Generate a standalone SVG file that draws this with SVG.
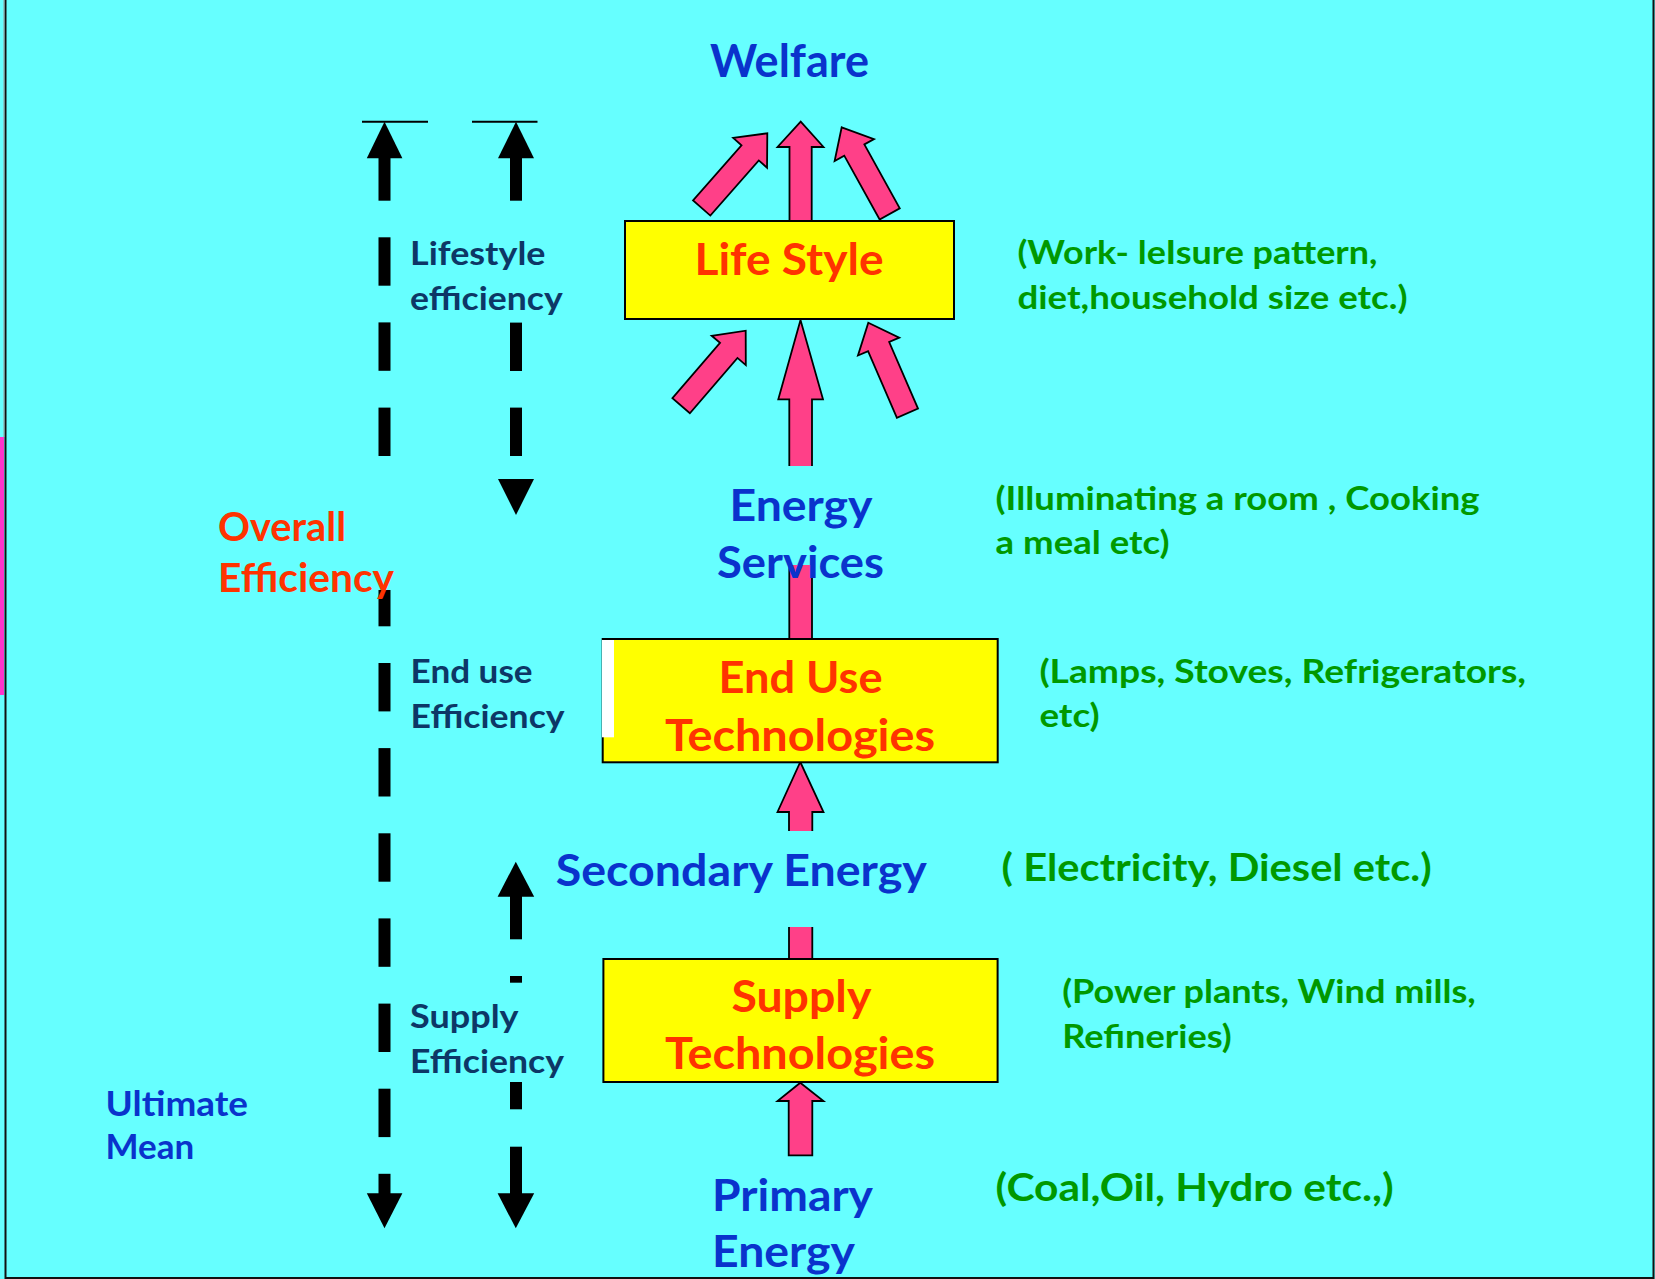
<svg xmlns="http://www.w3.org/2000/svg" width="1655" height="1279" viewBox="0 0 1655 1279">
<style>
text{font-family:Lato,"Liberation Sans",sans-serif;font-weight:700}
.h{font-size:44px;fill:#0A33CC}
.r{font-size:44px;fill:#FF3300}
.n{font-size:32.5px;fill:#0D3766}
.g{font-size:32.5px;fill:#009900}
.gb{font-size:38px;fill:#009900}
.box{fill:#FFFF00;stroke:#000;stroke-width:2}
.pk{fill:#FF4088;stroke:#000;stroke-width:1.8;stroke-linejoin:miter}
.pkf{fill:#FF4088}
.pks{stroke:#000;stroke-width:1.8;fill:none}
.bk{fill:#000}
.c{text-anchor:middle}
</style>
<rect x="0" y="0" width="1655" height="1279" fill="#66FFFF"/>
<rect x="0" y="437" width="4" height="258" fill="#FF33CC"/>
<path d="M5.5,0 V1278 H1653.5 V0" fill="none" stroke="#111" stroke-width="2"/>
<line x1="4" y1="0" x2="4" y2="437" stroke="#999" stroke-width="1"/>

<g id="connectors">
  <!-- pink arrows top (Life Style -> Welfare) -->
  <polygon class="pk" transform="translate(767.3,133.3) rotate(41.3)" points="0,0 22.5,26 11.5,26 11.5,99.4 -11.5,99.4 -11.5,26 -22.5,26"/>
  <polygon class="pk" transform="translate(841.7,127.3) rotate(-29)" points="0,0 22.5,26 11.5,26 11.5,99 -11.5,99 -11.5,26 -22.5,26"/>
  <path class="pk" d="M789.5,222 V147 H777.5 L800.7,121.7 L823.5,147 H811.7 V222"/>
  <!-- pink arrows (Energy Services -> Life Style) -->
  <polygon class="pk" transform="translate(745.7,330.7) rotate(40.7)" points="0,0 22.5,26 11.5,26 11.5,99 -11.5,99 -11.5,26 -22.5,26"/>
  <polygon class="pk" transform="translate(868.3,322.7) rotate(-23.4)" points="0,0 22.5,26 11.5,26 11.5,98.6 -11.5,98.6 -11.5,26 -22.5,26"/>
  <path class="pk" d="M789.3,466 V399.3 H778.3 L800.5,320 L823,399.3 H812 V466"/>
  <!-- End Use -> Energy Services shaft -->
  <rect class="pkf" x="789.3" y="565" width="22.7" height="75"/>
  <path class="pks" d="M789.3,565 V640 M812,565 V640"/>
  <!-- Secondary -> End Use -->
  <path class="pk" d="M789,831 V812 H777.5 L800.3,762 L823.5,812 H812.3 V831"/>
  <!-- Supply -> Secondary shaft -->
  <rect class="pkf" x="789" y="927" width="23.3" height="33"/>
  <path class="pks" d="M789,927 V960 M812.3,927 V960"/>
  <!-- Primary -> Supply -->
  <polygon class="pk" points="800.3,1082.7 823.5,1101 812.3,1101 812.3,1155.3 788.7,1155.3 788.7,1101 777.5,1101"/>

  <!-- black dashed efficiency arrows -->
  <g id="overall-arrow">
    <line x1="362" y1="121.7" x2="428" y2="121.7" stroke="#000" stroke-width="2"/>
    <polygon class="bk" points="384.5,121.7 402.4,158.3 366.8,158.3"/>
    <rect class="bk" x="378.5" y="157" width="12" height="43.7"/>
    <rect class="bk" x="378.5" y="237.3" width="12" height="48.4"/>
    <rect class="bk" x="378.5" y="322.4" width="12" height="48.4"/>
    <rect class="bk" x="378.5" y="407.6" width="12" height="48.4"/>
    <rect class="bk" x="378.5" y="590" width="12" height="36.3"/>
    <rect class="bk" x="378.5" y="663" width="12" height="48.4"/>
    <rect class="bk" x="378.5" y="748.1" width="12" height="48.4"/>
    <rect class="bk" x="378.5" y="833.3" width="12" height="48.4"/>
    <rect class="bk" x="378.5" y="918.4" width="12" height="48.4"/>
    <rect class="bk" x="378.5" y="1003.6" width="12" height="48.4"/>
    <rect class="bk" x="378.5" y="1088.7" width="12" height="48.4"/>
    <rect class="bk" x="378.5" y="1173.8" width="12" height="20.5"/>
    <polygon class="bk" points="366.8,1193.3 402.4,1193.3 384.5,1228.3"/>
  </g>
  <g id="lifestyle-arrow">
    <line x1="472" y1="121.7" x2="537.5" y2="121.7" stroke="#000" stroke-width="2"/>
    <polygon class="bk" points="516,121.7 534,158.3 498,158.3"/>
    <rect class="bk" x="510" y="157" width="12" height="43.7"/>
    <rect class="bk" x="510" y="322.6" width="12" height="48.4"/>
    <rect class="bk" x="510" y="407.6" width="12" height="48.4"/>
    <polygon class="bk" points="498,479 534,479 516,515"/>
  </g>
  <g id="supply-arrow">
    <polygon class="bk" points="515.8,861.7 534.2,896.7 497.6,896.7"/>
    <rect class="bk" x="510" y="895.5" width="12" height="43.8"/>
    <rect class="bk" x="510" y="976" width="12" height="6.7"/>
    <rect class="bk" x="510" y="1082" width="12" height="27.3"/>
    <rect class="bk" x="510" y="1146.7" width="12" height="47.6"/>
    <polygon class="bk" points="497.6,1193.3 534.2,1193.3 515.8,1228.3"/>
  </g>
</g>

<g id="welfare"><text class="h c" x="789.5" y="77.3" style="font-size:45px" textLength="159" lengthAdjust="spacingAndGlyphs">Welfare</text></g>
<g id="life-style">
  <rect class="box" x="625" y="221" width="329" height="98"/>
  <text class="r c" x="789" y="275" textLength="189" lengthAdjust="spacingAndGlyphs">Life Style</text>
</g>
<g id="energy-services">
  <text class="h c" x="801" y="521" textLength="143" lengthAdjust="spacingAndGlyphs">Energy</text>
  <text class="h c" x="800.5" y="578.3" textLength="167" lengthAdjust="spacingAndGlyphs">Services</text>
</g>
<g id="end-use">
  <rect class="box" x="602.7" y="639" width="395" height="123.3"/>
  <rect x="602" y="640" width="12" height="97.3" fill="#FFFFFF"/>
  <text class="r c" x="800.5" y="693.3" textLength="164" lengthAdjust="spacingAndGlyphs">End Use</text>
  <text class="r c" x="800" y="750.7" textLength="270" lengthAdjust="spacingAndGlyphs">Technologies</text>
</g>
<g id="secondary-energy"><text class="h c" x="741.3" y="886" textLength="371" lengthAdjust="spacingAndGlyphs">Secondary Energy</text></g>
<g id="supply">
  <rect class="box" x="603.4" y="959" width="394.2" height="123"/>
  <text class="r c" x="801.4" y="1012.3" textLength="140" lengthAdjust="spacingAndGlyphs">Supply</text>
  <text class="r c" x="800" y="1069.3" textLength="270" lengthAdjust="spacingAndGlyphs">Technologies</text>
</g>
<g id="primary-energy">
  <text class="h" x="712" y="1210.7" textLength="161" lengthAdjust="spacingAndGlyphs">Primary</text>
  <text class="h" x="712" y="1266.7" textLength="143" lengthAdjust="spacingAndGlyphs">Energy</text>
</g>
<g id="overall-efficiency">
  <text class="r" x="218" y="540.7" style="font-size:40px" textLength="128" lengthAdjust="spacingAndGlyphs">Overall</text>
  <text class="r" x="218" y="591.7" style="font-size:40px" textLength="176" lengthAdjust="spacingAndGlyphs">Efficiency</text>
</g>
<g id="lifestyle-efficiency">
  <text class="n" x="410" y="265" textLength="135.5" lengthAdjust="spacingAndGlyphs">Lifestyle</text>
  <text class="n" x="410" y="310" textLength="152.7" lengthAdjust="spacingAndGlyphs">efficiency</text>
</g>
<g id="end-use-efficiency">
  <text class="n" x="410.6" y="683.3" textLength="122" lengthAdjust="spacingAndGlyphs">End use</text>
  <text class="n" x="410.6" y="728.3" textLength="154" lengthAdjust="spacingAndGlyphs">Efficiency</text>
</g>
<g id="supply-efficiency">
  <text class="n" x="410" y="1028.3" textLength="108.6" lengthAdjust="spacingAndGlyphs">Supply</text>
  <text class="n" x="410" y="1072.7" textLength="154" lengthAdjust="spacingAndGlyphs">Efficiency</text>
</g>
<g id="ultimate-mean">
  <text class="n" x="105.5" y="1115.6" style="fill:#0A33CC;font-size:34px" textLength="142.5" lengthAdjust="spacingAndGlyphs">Ultimate</text>
  <text class="n" x="105.5" y="1159" style="fill:#0A33CC;font-size:34px" textLength="88.7" lengthAdjust="spacingAndGlyphs">Mean</text>
</g>
<g id="notes">
  <text class="g" x="1017.5" y="264.3" textLength="360" lengthAdjust="spacingAndGlyphs">(Work- leIsure pattern,</text>
  <text class="g" x="1017.5" y="309.3" textLength="390" lengthAdjust="spacingAndGlyphs">diet,household size etc.)</text>
  <text class="g" x="995.6" y="510" textLength="484" lengthAdjust="spacingAndGlyphs">(Illuminating a room , Cooking</text>
  <text class="g" x="995.6" y="554.3" textLength="174" lengthAdjust="spacingAndGlyphs">a meal etc)</text>
  <text class="g" x="1039.4" y="683.1" textLength="486.6" lengthAdjust="spacingAndGlyphs">(Lamps, Stoves, Refrigerators,</text>
  <text class="g" x="1039.4" y="727.2" textLength="60.2" lengthAdjust="spacingAndGlyphs">etc)</text>
  <text class="gb" x="1001.6" y="881.4" textLength="430" lengthAdjust="spacingAndGlyphs">( Electricity, Diesel etc.)</text>
  <text class="g" x="1062.2" y="1002.7" textLength="413.6" lengthAdjust="spacingAndGlyphs">(Power plants, Wind mills,</text>
  <text class="g" x="1062.2" y="1047.9" textLength="169.6" lengthAdjust="spacingAndGlyphs">Refineries)</text>
  <text class="gb" x="995.6" y="1201" textLength="398" lengthAdjust="spacingAndGlyphs">(Coal,Oil, Hydro etc.,)</text>
</g>
</svg>
